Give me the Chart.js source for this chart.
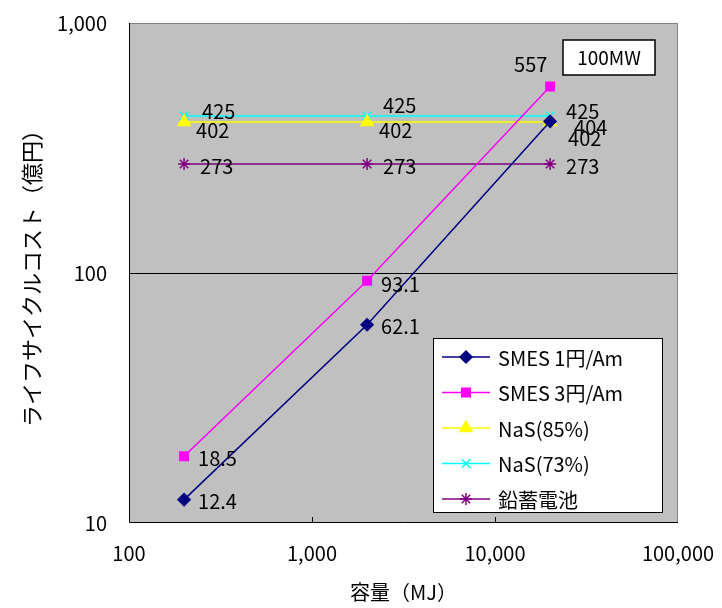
<!DOCTYPE html>
<html>
<head>
<meta charset="utf-8">
<script src="https://cdn.jsdelivr.net/npm/chart.js@4/dist/chart.umd.min.js"></script>
<style>
  html, body { margin: 0; padding: 0; background: #fff; }
  #wrap { width: 722px; height: 608px; }
</style>
</head>
<body>
<div id="wrap"><canvas id="c" width="722" height="608"></canvas></div>
<script>
// capacity (MJ)
var capacity = [200, 2000, 20000];
var seriesNames = ["SMES 1円/Am", "SMES 3円/Am", "NaS(85%)", "NaS(73%)", "鉛蓄電池"];
var smes1 = [12.4, 62.1, 404];
var smes3 = [18.5, 93.1, 557];
var nas85 = [402, 402, 402];
var nas73 = [425, 425, 425];
var leadAcid = [273, 273, 273];
var xTicks = [100, 1000, 10000, 100000];
var yTicks = [10, 100, 1000];

var FONT = '"Noto Sans CJK JP", "DejaVu Sans", sans-serif';

function pts(vals) {
    return vals.map(function (v, i) { return { x: capacity[i], y: v }; });
}

// label offsets per dataset / point (relative to the point, left-aligned)
var labelOffsets = [
    [[14, 2], [14, 2], [24, 6]],
    [[14, 2], [14, 4], [-36, -22]],
    [[12, 8], [12, 8], [18, 16]],
    [[18, -4], [16, -10], [16, -4]],
    [[16, 2], [16, 2], [16, 2]]
];

var fmt = function (v) { return v.toLocaleString('en-US'); };

const plotBg = {
    id: 'plotBg',
    beforeDraw: function (chart) {
        var a = chart.chartArea, ctx = chart.ctx;
        ctx.save();
        ctx.fillStyle = '#c0c0c0';
        ctx.fillRect(a.left, a.top, a.right - a.left, a.bottom - a.top);
        ctx.restore();
    },
    afterDatasetsDraw: function (chart) {
        var a = chart.chartArea, ctx = chart.ctx;
        ctx.save();
        // frame: gray top/right, black left/bottom
        ctx.lineWidth = 1;
        ctx.strokeStyle = '#808080';
        ctx.beginPath();
        ctx.moveTo(a.left, a.top + 0.5); ctx.lineTo(a.right - 0.5, a.top + 0.5); ctx.lineTo(a.right - 0.5, a.bottom);
        ctx.stroke();
        ctx.strokeStyle = '#000';
        ctx.beginPath();
        ctx.moveTo(a.left + 0.5, a.top); ctx.lineTo(a.left + 0.5, a.bottom - 0.5); ctx.lineTo(a.right, a.bottom - 0.5);
        ctx.stroke();
        // inner x tick marks
        var xs = chart.scales.x;
        xTicks.slice(1, -1).forEach(function (t) {
            var px = Math.round(xs.getPixelForValue(t)) + 0.5;
            ctx.beginPath(); ctx.moveTo(px, a.bottom); ctx.lineTo(px, a.bottom - 6); ctx.stroke();
        });

        // data labels
        ctx.fillStyle = '#000';
        ctx.font = '20px ' + FONT;
        ctx.textBaseline = 'middle';
        ctx.textAlign = 'left';
        chart.data.datasets.forEach(function (ds, di) {
            var meta = chart.getDatasetMeta(di);
            meta.data.forEach(function (el, i) {
                var off = labelOffsets[di][i];
                ctx.fillText(String(ds.data[i].y), el.x + off[0], el.y + off[1]);
            });
        });

        // "100MW" box
        ctx.fillStyle = '#fff';
        ctx.fillRect(563, 40, 92, 35);
        ctx.strokeStyle = '#000';
        ctx.lineWidth = 1.5;
        ctx.strokeRect(563, 40, 92, 35);
        ctx.fillStyle = '#000';
        ctx.textAlign = 'center';
        ctx.font = '19px ' + FONT;
        ctx.fillText('100MW', 609, 58);

        // legend box
        var lx = 433, ly = 338, lw = 229, lh = 174;
        ctx.fillStyle = '#fff';
        ctx.fillRect(lx, ly, lw, lh);
        ctx.strokeStyle = '#000';
        ctx.lineWidth = 1;
        ctx.strokeRect(lx + 0.5, ly + 0.5, lw, lh);
        ctx.textAlign = 'left';
        ctx.font = '20px ' + FONT;
        chart.data.datasets.forEach(function (ds, di) {
            var y = 357 + di * 35.5;
            ctx.strokeStyle = ds.borderColor;
            ctx.fillStyle = ds.backgroundColor;
            ctx.lineWidth = ds.borderWidth;
            ctx.beginPath(); ctx.moveTo(442, y); ctx.lineTo(490, y); ctx.stroke();
            Chart.helpers.drawPoint(ctx, {
                pointStyle: ds.pointStyle, radius: ds.pointRadius, borderWidth: ds.pointBorderWidth, rotation: 0
            }, 466, y);
            ctx.fillStyle = '#000';
            ctx.fillText(ds.label, 498, y + 1);
        });
        ctx.restore();
    }
};

function mk(label, data, color, style, radius) {
    return {
        label: label, data: pts(data),
        borderColor: color, backgroundColor: color,
        pointBackgroundColor: color, pointBorderColor: color,
        pointStyle: style, pointRadius: radius, pointBorderWidth: 1.5,
        borderWidth: 1.5, showLine: true, tension: 0
    };
}

new Chart(document.getElementById('c'), {
    type: 'scatter',
    data: {
        datasets: [
            mk(seriesNames[0], smes1, '#000080', 'rectRot', 6),
            mk(seriesNames[1], smes3, '#ff00ff', 'rect', 6),
            mk(seriesNames[2], nas85, '#ffff00', 'triangle', 7),
            mk(seriesNames[3], nas73, '#00ffff', 'crossRot', 6),
            mk(seriesNames[4], leadAcid, '#800080', 'star', 6)
        ]
    },
    options: {
        responsive: false,
        animation: false,
        events: [],
        layout: { padding: { top: 23, right: 44, left: 0, bottom: 0 } },
        plugins: { legend: { display: false }, tooltip: { enabled: false } },
        scales: {
            x: {
                type: 'logarithmic', min: 100, max: 100000,
                afterBuildTicks: function (s) { s.ticks = xTicks.map(function (v) { return { value: v }; }); },
                afterFit: function (s) { s.height = 85; s.paddingLeft = 0; s.paddingRight = 0; },
                grid: { display: false },
                border: { display: false },
                ticks: {
                    color: '#000', font: { family: FONT, size: 20 }, padding: 10,
                    maxRotation: 0, autoSkip: false,
                    callback: function (v) { return fmt(v); }
                },
                title: { display: true, text: '容量（MJ）', color: '#000', font: { family: FONT, size: 20 }, padding: { top: 0 } }
            },
            y: {
                type: 'logarithmic', min: 10, max: 1000,
                afterBuildTicks: function (s) { s.ticks = yTicks.map(function (v) { return { value: v }; }); },
                afterFit: function (s) { s.width = 129; s.paddingTop = 0; s.paddingBottom = 0; },
                grid: {
                    drawTicks: false,
                    color: function (c) { return c.tick && c.tick.value === 100 ? '#000' : 'rgba(0,0,0,0)'; },
                    lineWidth: 1
                },
                border: { display: false },
                ticks: {
                    color: '#000', font: { family: FONT, size: 20 }, padding: 22,
                    callback: function (v) { return fmt(v); }
                },
                title: { display: true, text: 'ライフサイクルコスト（億円）', color: '#000', font: { family: FONT, size: 22 }, padding: { top: 18, bottom: 4 } }
            }
        }
    },
    plugins: [plotBg]
});
</script>
</body>
</html>
